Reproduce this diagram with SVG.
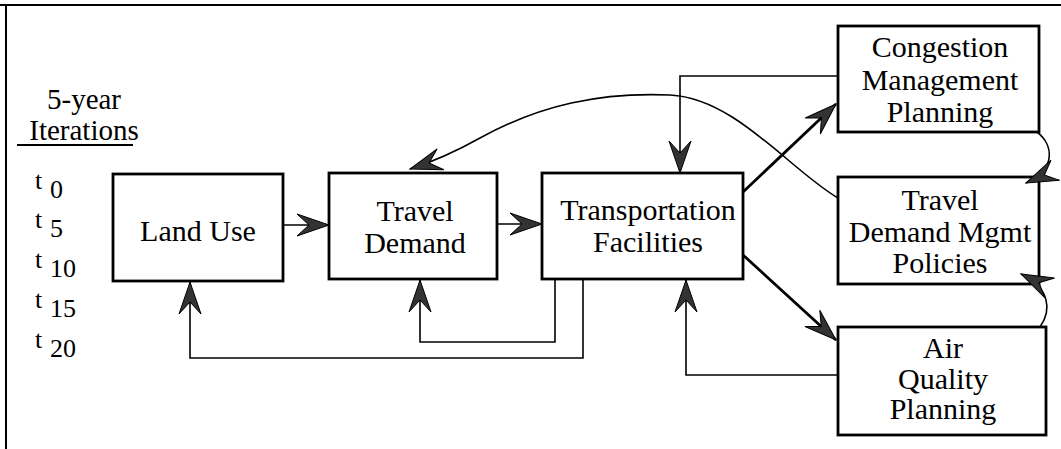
<svg xmlns="http://www.w3.org/2000/svg" width="1061" height="449" viewBox="0 0 1061 449">
  <style>
    .box { fill: #fff; stroke: #000; stroke-width: 2.8; }
    .lbl { font-family: "Liberation Serif", "Times New Roman", serif; font-size: 30px; fill: #000; text-anchor: middle; }
    .side { font-family: "Liberation Serif", "Times New Roman", serif; fill: #000; }
    .thin { fill: none; stroke: #000; stroke-width: 1.6; marker-end: url(#ah); }
    .thick { fill: none; stroke: #000; stroke-width: 2.8; marker-end: url(#ah); }
  </style>
  <defs>
    <!-- notched filled arrowhead, tip at the path end -->
    <marker id="ah" viewBox="-34 -13 36 26" refX="0" refY="0" markerWidth="36" markerHeight="26" markerUnits="userSpaceOnUse" orient="auto">
      <path d="M0,0 L-32,-11 L-20,0 L-32,11 Z" fill="#333" stroke="#000" stroke-width="1"/>
    </marker>
  </defs>

  <rect width="1061" height="449" fill="#fff"/>

  <!-- page frame -->
  <path d="M0,5 H1061 M6,5 V449" fill="none" stroke="#000" stroke-width="2"/>

  <!-- iteration legend -->
  <g id="legend">
    <text class="side" x="84" y="109" font-size="29" text-anchor="middle">5-year</text>
    <text class="side" x="84" y="140" font-size="29" text-anchor="middle">Iterations</text>
    <line x1="17" y1="145" x2="133" y2="145" stroke="#000" stroke-width="2"/>
    <g font-size="26">
      <text class="side" x="35" y="189">t</text><text class="side" x="50" y="198">0</text>
      <text class="side" x="35" y="228">t</text><text class="side" x="50" y="237">5</text>
      <text class="side" x="35" y="268">t</text><text class="side" x="50" y="277">10</text>
      <text class="side" x="35" y="308">t</text><text class="side" x="50" y="317">15</text>
      <text class="side" x="35" y="348">t</text><text class="side" x="50" y="357">20</text>
    </g>
  </g>

  <g id="land-use">
    <rect class="box" x="113" y="174" width="170" height="107"/>
    <text class="lbl" x="198" y="241">Land Use</text>
  </g>

  <g id="travel-demand">
    <rect class="box" x="329" y="173" width="168" height="106"/>
    <text class="lbl" x="415" y="221">Travel</text>
    <text class="lbl" x="415" y="253">Demand</text>
  </g>

  <g id="transportation-facilities">
    <rect class="box" x="542" y="173" width="201" height="106"/>
    <text class="lbl" x="648" y="220">Transportation</text>
    <text class="lbl" x="648" y="252">Facilities</text>
  </g>

  <g id="congestion-management">
    <rect class="box" x="838" y="26" width="201" height="106"/>
    <text class="lbl" x="940" y="57">Congestion</text>
    <text class="lbl" x="940" y="90">Management</text>
    <text class="lbl" x="940" y="122">Planning</text>
  </g>

  <g id="tdm-policies">
    <rect class="box" x="838" y="177" width="201" height="107"/>
    <text class="lbl" x="940" y="210">Travel</text>
    <text class="lbl" x="940" y="242">Demand Mgmt</text>
    <text class="lbl" x="940" y="273">Policies</text>
  </g>

  <g id="air-quality">
    <rect class="box" x="838" y="327" width="208" height="108"/>
    <text class="lbl" x="943" y="358" font-size="29">Air</text>
    <text class="lbl" x="943" y="389" font-size="29">Quality</text>
    <text class="lbl" x="943" y="419" font-size="29">Planning</text>
  </g>

  <g id="connectors">
    <path class="thin" d="M283,225 H329"/>
    <path class="thin" d="M497,224 H542"/>
    <path class="thick" d="M743,192 L836,104"/>
    <path class="thick" d="M743,255 L836,340"/>
    <path class="thin" d="M838,76 H680 V173"/>
    <path class="thin" d="M838,198 C790,170 735,98 670,95 C600,92 540,105 480,138 C455,152 432,162 410,169"/>
    <path class="thin" d="M1037,132 C1054,145 1056,170 1026,183"/>
    <path class="thin" d="M1040,327 C1052,310 1050,288 1021,274"/>
    <path class="thin" d="M555,279 V342 H420 V280"/>
    <path class="thin" d="M583,279 V358 H190 V282"/>
    <path class="thin" d="M838,375 H686 V280"/>
  </g>
</svg>
